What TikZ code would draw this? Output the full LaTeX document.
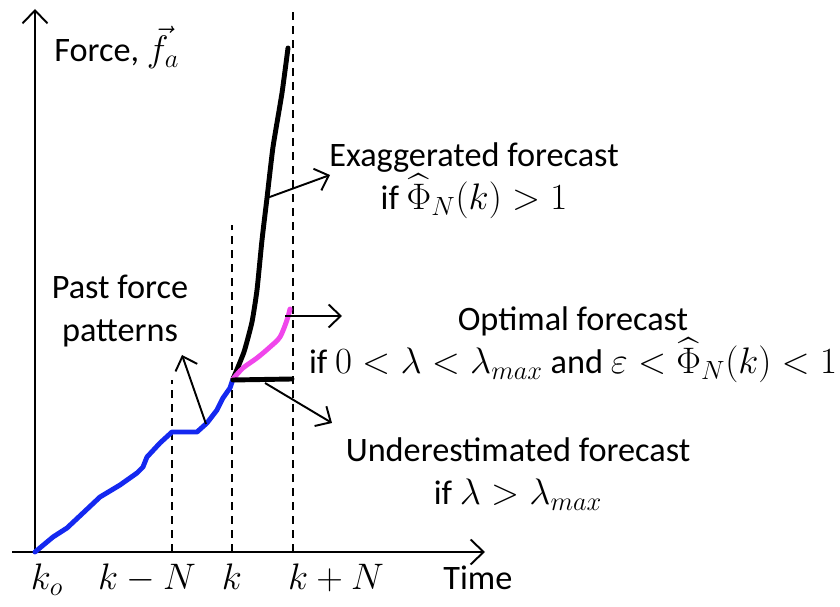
\RequirePackage{fix-cm}
\documentclass[tikz,border=0pt]{standalone}
\usepackage{amsmath,amssymb}
\usepackage[no-math]{fontspec}
\setmainfont{Carlito}
\DeclareMathSizes{19.5}{21}{15}{10.5}
\usetikzlibrary{arrows.meta, calc}
\definecolor{pastblue}{RGB}{20,40,240}
\definecolor{optpink}{RGB}{240,70,235}

\begin{document}
\begin{tikzpicture}[x=0.02cm, y=-0.02cm,
  lbl/.style={inner sep=0pt, font=\fontsize{19.5}{24.5}\selectfont},
  arr/.style={-{Straight Barb[length=2.4mm, width=4.6mm]}, line width=1.1pt},
  axis/.style={-{Straight Barb[length=2.6mm, width=5mm]}, line width=1.1pt},
  guide/.style={dash pattern=on 1.6mm off 1.2mm, line width=1.1pt},
  curve/.style={line width=2.8pt, line join=round, line cap=round}
]
\useasboundingbox (0,0) rectangle (840,607);

% axes and time marks
\coordinate (xstart) at (12,552);
\coordinate (xend) at (485,552);
\coordinate (O) at (35,552);
\coordinate (yend) at (35,9);
\draw[axis] (xstart) -- (xend);
\draw[axis] (O) -- (yend);
\draw[guide] (172,552) -- (172,380);
\draw[guide] (232,552) -- (232,225);
\draw[guide] (293,552) -- (293,12);

% past force (blue)
\draw[curve, pastblue] plot coordinates {(35,552) (53,537) (67,528) (83,513) (100,497)
  (120,485) (137,473) (143,467) (147,457) (160,443) (172,432) (197,432)
  (207,423) (217,410) (223,398) (230,388) (233,379)};

% forecasts
\draw[curve] plot[smooth, tension=0.3] coordinates {(233,379) (244,352) (252,322)
  (257,290) (262,240) (267,198) (273,147) (282,93) (288,48)};
\draw[curve, optpink] plot[smooth, tension=0.5] coordinates {(233,379) (243,368)
  (257,358) (270,347) (280,337) (287,320) (290,309)};
\draw[curve] (233,380) -- (292,379);

% labels
\node[lbl, anchor=base west] (force) at (54,62) {Force, $\vec{f}_a$};
\node[lbl, align=center] (exag) at (474,181) {Exaggerated forecast\\if $\widehat{\Phi}_N(k)>1$};
\node[lbl, align=center] (opt) at (573,345) {Optimal forecast\\if $0<\lambda<\lambda_{max}$ and $\varepsilon<\widehat{\Phi}_N(k)<1$};
\node[lbl, align=center] (under) at (518,474) {Underestimated forecast\\if $\lambda>\lambda_{max}$};
\node[lbl, align=center] (past) at (120,311) {Past force\\patterns};
\node[lbl, anchor=base] (ko) at (47,590) {$k_o$};
\node[lbl, anchor=base] (kmN) at (147,590) {$k-N$};
\node[lbl, anchor=base] (k) at (232,590) {$k$};
\node[lbl, anchor=base] (kpN) at (336,590) {$k+N$};
\node[lbl, anchor=base west] (time) at (443,590) {Time};

% pointers
\coordinate (onexag) at (267,198);
\coordinate (tipexag) at (330,175);
\coordinate (onopt) at (285,316);
\coordinate (tipopt) at (342,316);
\coordinate (onunder) at (265,383);
\coordinate (tipunder) at (332,423);
\coordinate (onpast) at (206,424);
\coordinate (tippast) at (182,355);
\draw[arr] (onexag) -- (tipexag);
\draw[arr] (onopt) -- (tipopt);
\draw[arr] (onunder) -- (tipunder);
\draw[arr] (onpast) -- (tippast);
\end{tikzpicture}
\end{document}
